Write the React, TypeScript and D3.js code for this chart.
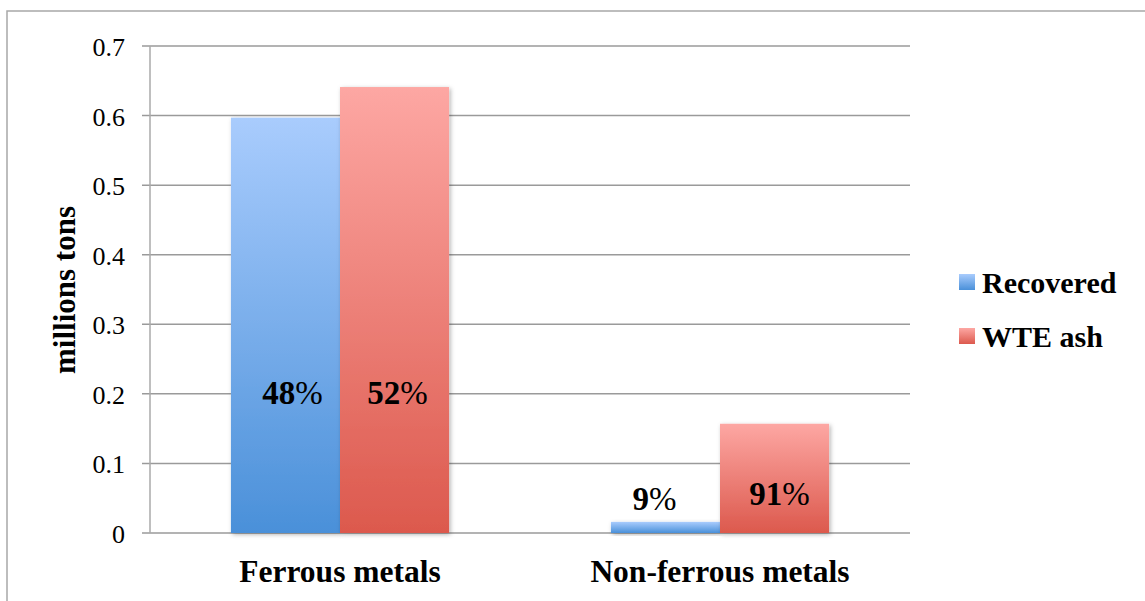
import React from "react";
import * as d3 from "d3";

// Metal tonnage: recovered vs. left in waste-to-energy ash (millions of tons)
const categories = ["Ferrous metals", "Non-ferrous metals"];
const seriesNames = ["Recovered", "WTE ash"];
const recovered = [0.597, 0.016];
const wteAsh = [0.641, 0.157];
const shareLabels = [
  ["48%", "9%"],
  ["52%", "91%"],
];
const yTicks = [0, 0.1, 0.2, 0.3, 0.4, 0.5, 0.6, 0.7];

const W = 1145;
const H = 601;
const plot = { left: 150, right: 910, top: 46, bottom: 533 };

const gradients = [
  { id: "gradBlue", top: "#a9ccfd", bottom: "#4a90d9" },
  { id: "gradRed", top: "#fda7a3", bottom: "#dc594d" },
];

// hand-placed in-bar percentage labels: anchor level (data units) and horizontal nudge (px)
const labelLevels = [
  [0.185, 0.033],
  [0.185, 0.04],
];
const labelNudge = [
  [7, -11],
  [3, 5],
];

export default function App() {
  const values = [recovered, wteAsh];
  const y = d3.scaleLinear().domain([0, 0.7]).range([plot.bottom, plot.top]);
  const x0 = d3
    .scaleBand<string>()
    .domain(categories)
    .range([plot.left, plot.right])
    .padding(0);
  const groupW = x0.bandwidth() * 0.574;
  const x1 = d3
    .scaleBand<string>()
    .domain(seriesNames)
    .range([(x0.bandwidth() - groupW) / 2, (x0.bandwidth() + groupW) / 2])
    .padding(0);

  const serif = "'Liberation Serif', 'Times New Roman', serif";
  const gridColor = "#9a9a9a";

  return (
    <svg
      width={W}
      height={H}
      style={{ position: "fixed", left: 0, top: 0, background: "#fff" }}
    >
      <defs>
        {gradients.map((g) => (
          <linearGradient key={g.id} id={g.id} x1="0" y1="0" x2="0" y2="1">
            <stop offset="0%" stopColor={g.top} />
            <stop offset="100%" stopColor={g.bottom} />
          </linearGradient>
        ))}
        <filter id="barShadow" x="-20%" y="-20%" width="140%" height="140%">
          <feDropShadow dx="1.5" dy="1.5" stdDeviation="2" floodColor="#000" floodOpacity="0.3" />
        </filter>
      </defs>

      {/* chart frame */}
      <rect x={7} y={11} width={1300} height={800} fill="none" stroke="#a8a8a8" strokeWidth={1.5} />

      {/* gridlines, ticks and tick labels */}
      {yTicks.map((t) => (
        <g key={t}>
          <line
            x1={plot.left - 8}
            x2={plot.right}
            y1={y(t)}
            y2={y(t)}
            stroke={gridColor}
            strokeWidth={1.5}
          />
          <text
            x={125}
            y={y(t) + 10}
            textAnchor="end"
            fontFamily={serif}
            fontSize={26}
            fill="#000"
          >
            {t === 0 ? "0" : d3.format(".1f")(t)}
          </text>
        </g>
      ))}
      <line
        x1={plot.left}
        x2={plot.left}
        y1={plot.top}
        y2={plot.bottom}
        stroke="#aaaaaa"
        strokeWidth={1.5}
      />

      {/* bars */}
      {categories.map((c, ci) => (
        <g key={c} transform={`translate(${x0(c)},0)`}>
          {seriesNames.map((s, si) => {
            const v = values[si][ci];
            return (
              <rect
                key={s}
                x={x1(s)}
                y={y(v)}
                width={x1.bandwidth()}
                height={y(0) - y(v)}
                fill={`url(#${gradients[si].id})`}
                filter="url(#barShadow)"
              />
            );
          })}
        </g>
      ))}

      {/* percentage labels */}
      {categories.map((c, ci) => (
        <g key={c + "-lbl"} transform={`translate(${x0(c)},0)`}>
          {seriesNames.map((s, si) => {
            const txt = shareLabels[si][ci];
            const num = txt.replace("%", "");
            return (
              <text
                key={s}
                x={(x1(s) as number) + x1.bandwidth() / 2 + labelNudge[si][ci]}
                y={y(labelLevels[si][ci])}
                textAnchor="middle"
                fontFamily={serif}
                fontSize={33}
                fill="#000"
              >
                <tspan fontWeight="bold">{num}</tspan>
                <tspan>%</tspan>
              </text>
            );
          })}
        </g>
      ))}

      {/* category labels */}
      {categories.map((c) => (
        <text
          key={c + "-cat"}
          x={(x0(c) as number) + x0.bandwidth() / 2}
          y={582}
          textAnchor="middle"
          fontFamily={serif}
          fontWeight="bold"
          fontSize={31.5}
          fill="#000"
        >
          {c}
        </text>
      ))}

      {/* y-axis title */}
      <text
        transform="translate(75,290) rotate(-90)"
        textAnchor="middle"
        fontFamily={serif}
        fontWeight="bold"
        fontSize={31}
        fill="#000"
      >
        millions tons
      </text>

      {/* legend */}
      {seriesNames.map((s, i) => (
        <g key={s + "-leg"} transform={`translate(959,${274 + i * 54})`}>
          <rect width={16} height={16} fill={`url(#${gradients[i].id})`} />
          <text
            x={23}
            y={19}
            fontFamily={serif}
            fontWeight="bold"
            fontSize={30}
            fill="#000"
          >
            {s}
          </text>
        </g>
      ))}
    </svg>
  );
}
